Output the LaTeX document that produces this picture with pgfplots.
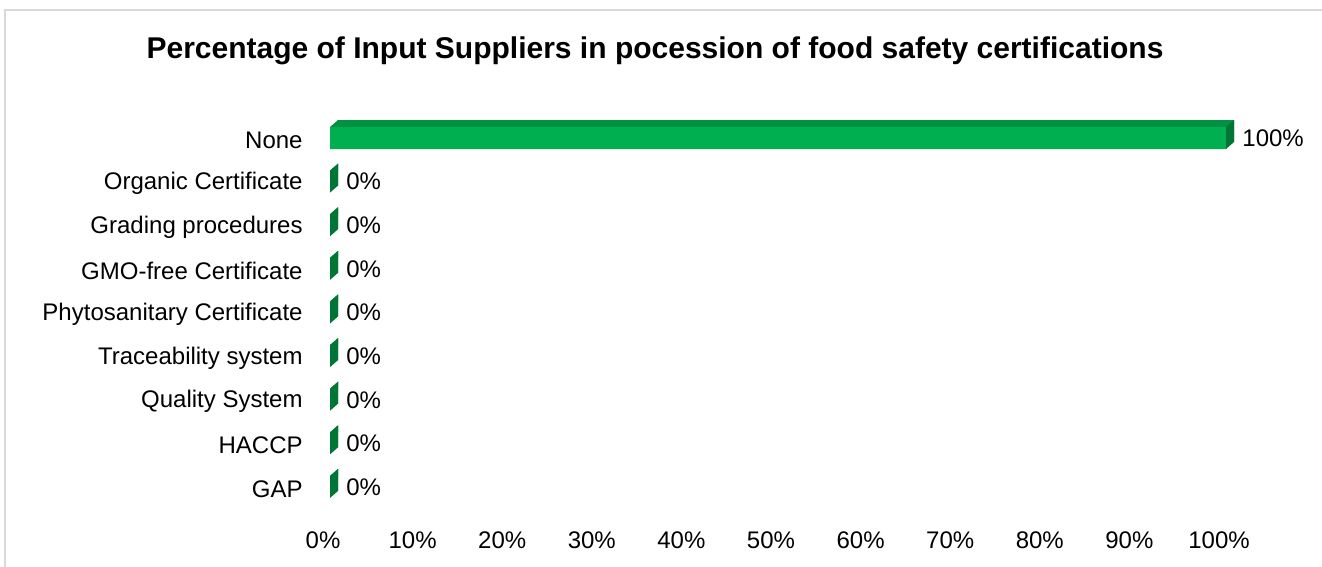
\documentclass[border=0pt]{standalone}
\usepackage{pgfplots}
\pgfplotsset{compat=1.18}
\usepackage{fontspec}
\setmainfont{Liberation Sans}
\definecolor{frontgreen}{RGB}{0,176,80}
\definecolor{topgreen}{RGB}{0,145,66}
\definecolor{sidegreen}{RGB}{0,118,54}
\definecolor{framegray}{RGB}{217,217,217}
\pgfdeclareplotmark{side}{%
  \pgfpathmoveto{\pgfqpoint{0pt}{-5.5pt}}%
  \pgfpathlineto{\pgfqpoint{4pt}{-2pt}}%
  \pgfpathlineto{\pgfqpoint{4pt}{9pt}}%
  \pgfpathlineto{\pgfqpoint{0pt}{5.5pt}}%
  \pgfpathclose\pgfusepathqfill}
\pgfdeclareplotmark{corner}{%
  \pgfpathmoveto{\pgfqpoint{0pt}{5.5pt}}%
  \pgfpathlineto{\pgfqpoint{4pt}{5.5pt}}%
  \pgfpathlineto{\pgfqpoint{4pt}{9pt}}%
  \pgfpathclose\pgfusepathqfill}
\pgfplotstableread{
y v
0 0
1 0
2 0
3 0
4 0
5 0
6 0
7 0
8 100
}\certdata
\begin{document}
\begin{tikzpicture}
\useasboundingbox (0,0) rectangle (661pt,283.5pt);
\draw[framegray, line width=1pt] (2.5pt,0pt) -- (2.5pt,278.5pt) -- (661pt,278.5pt);
\node[font=\fontsize{15}{18}\selectfont\bfseries, anchor=center] at (327.5pt,258pt)
  {Percentage of Input Suppliers in pocession of food safety certifications};
\begin{axis}[
  at={(165pt,29.1pt)}, anchor=south west,
  scale only axis, width=448pt, height=196.3pt,
  xmin=0, xmax=100, ymin=-0.5, ymax=8.5,
  clip=false,
  axis line style={draw=none},
  major tick length=0pt,
  xtick={0,10,...,100},
  xticklabel={\pgfmathprintnumber{\tick}\%},
  ytick={0,...,8},
  yticklabels={GAP,HACCP,Quality System,Traceability system,Phytosanitary Certificate,GMO-free Certificate,Grading procedures,Organic Certificate,None},
  /pgf/number format/assume math mode=true,
  ticklabel style={font=\fontsize{12}{14}\selectfont, text=black},
  xticklabel style={anchor=center, yshift=-15.5pt, xshift=-3.5pt},
  yticklabel style={anchor=east, inner sep=0pt, xshift=-13.5pt, yshift=-1pt},
]
\addplot[xbar, bar width=11pt, bar shift=0pt, fill=topgreen, draw=none, xshift=4pt, yshift=3.5pt]
  table[x=v, y=y] {\certdata};
\addplot[xbar, bar width=11pt, bar shift=0pt, fill=frontgreen, draw=none]
  table[x=v, y=y] {\certdata};
\addplot[only marks, mark=corner, mark options={fill=topgreen, draw=none}]
  coordinates {(0,0) (0,1) (0,2) (0,3) (0,4) (0,5) (0,6) (0,7) (0,8)};
\addplot[only marks, mark=side, mark options={fill=sidegreen, draw=none},
  point meta=x,
  nodes near coords={\pgfmathprintnumber{\pgfplotspointmeta}\%},
  every node near coord/.append style={anchor=west, xshift=8pt, inner sep=0pt,
     font=\fontsize{12}{14}\selectfont, text=black}]
  table[x=v, y=y] {\certdata};
\end{axis}
\end{tikzpicture}
\end{document}
